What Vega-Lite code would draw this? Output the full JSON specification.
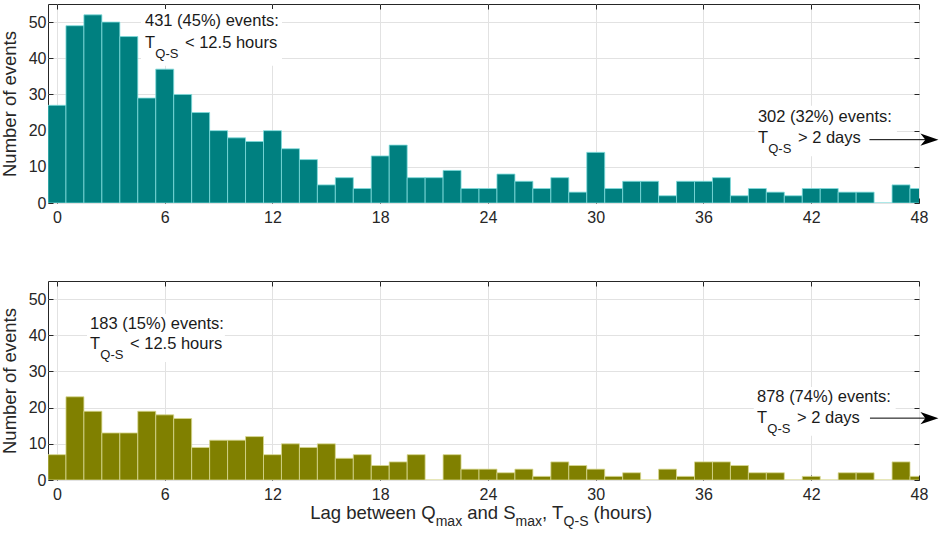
{
  "$schema": "https://vega.github.io/schema/vega-lite/v6.json",
  "padding": {"left": 0, "top": 3, "right": 0, "bottom": 0},
  "config": {
    "font": "Liberation Sans",
    "view": {"stroke": "#262626", "strokeWidth": 1},
    "axis": {
      "labelFont": "Liberation Sans", "titleFont": "Liberation Sans",
      "labelFontSize": 16, "labelColor": "#262626", "labelFlush": false,
      "titleFontSize": 18.5, "titleFontWeight": "normal", "titleColor": "#262626",
      "gridColor": "#e2e2e2", "gridWidth": 1,
      "tickColor": "#262626", "tickSize": -5, "domain": false
    },
    "text": {"font": "Liberation Sans"}
  },
  "datasets": {
    "top": [
      {"hour": 0, "events": 27}, {"hour": 1, "events": 49}, {"hour": 2, "events": 52}, {"hour": 3, "events": 50},
      {"hour": 4, "events": 46}, {"hour": 5, "events": 29}, {"hour": 6, "events": 37}, {"hour": 7, "events": 30},
      {"hour": 8, "events": 25}, {"hour": 9, "events": 20}, {"hour": 10, "events": 18}, {"hour": 11, "events": 17},
      {"hour": 12, "events": 20}, {"hour": 13, "events": 15}, {"hour": 14, "events": 12}, {"hour": 15, "events": 5},
      {"hour": 16, "events": 7}, {"hour": 17, "events": 4}, {"hour": 18, "events": 13}, {"hour": 19, "events": 16},
      {"hour": 20, "events": 7}, {"hour": 21, "events": 7}, {"hour": 22, "events": 9}, {"hour": 23, "events": 4},
      {"hour": 24, "events": 4}, {"hour": 25, "events": 8}, {"hour": 26, "events": 6}, {"hour": 27, "events": 4},
      {"hour": 28, "events": 7}, {"hour": 29, "events": 3}, {"hour": 30, "events": 14}, {"hour": 31, "events": 4},
      {"hour": 32, "events": 6}, {"hour": 33, "events": 6}, {"hour": 34, "events": 2}, {"hour": 35, "events": 6},
      {"hour": 36, "events": 6}, {"hour": 37, "events": 7}, {"hour": 38, "events": 2}, {"hour": 39, "events": 4},
      {"hour": 40, "events": 3}, {"hour": 41, "events": 2}, {"hour": 42, "events": 4}, {"hour": 43, "events": 4},
      {"hour": 44, "events": 3}, {"hour": 45, "events": 3}, {"hour": 46, "events": 0}, {"hour": 47, "events": 5},
      {"hour": 48, "events": 4}
    ],
    "bottom": [
      {"hour": 0, "events": 7}, {"hour": 1, "events": 23}, {"hour": 2, "events": 19}, {"hour": 3, "events": 13},
      {"hour": 4, "events": 13}, {"hour": 5, "events": 19}, {"hour": 6, "events": 18}, {"hour": 7, "events": 17},
      {"hour": 8, "events": 9}, {"hour": 9, "events": 11}, {"hour": 10, "events": 11}, {"hour": 11, "events": 12},
      {"hour": 12, "events": 7}, {"hour": 13, "events": 10}, {"hour": 14, "events": 9}, {"hour": 15, "events": 10},
      {"hour": 16, "events": 6}, {"hour": 17, "events": 7}, {"hour": 18, "events": 4}, {"hour": 19, "events": 5},
      {"hour": 20, "events": 7}, {"hour": 21, "events": 0}, {"hour": 22, "events": 7}, {"hour": 23, "events": 3},
      {"hour": 24, "events": 3}, {"hour": 25, "events": 2}, {"hour": 26, "events": 3}, {"hour": 27, "events": 1},
      {"hour": 28, "events": 5}, {"hour": 29, "events": 4}, {"hour": 30, "events": 3}, {"hour": 31, "events": 1},
      {"hour": 32, "events": 2}, {"hour": 33, "events": 0}, {"hour": 34, "events": 3}, {"hour": 35, "events": 1},
      {"hour": 36, "events": 5}, {"hour": 37, "events": 5}, {"hour": 38, "events": 4}, {"hour": 39, "events": 2},
      {"hour": 40, "events": 2}, {"hour": 41, "events": 0}, {"hour": 42, "events": 1}, {"hour": 43, "events": 0},
      {"hour": 44, "events": 2}, {"hour": 45, "events": 2}, {"hour": 46, "events": 0}, {"hour": 47, "events": 5},
      {"hour": 48, "events": 1}
    ]
  },
  "bounds": "flush",
  "spacing": 78,
  "vconcat": [
    {
      "width": 871, "height": 199,
      "resolve": {"axis": {"x": "independent", "y": "independent"}},
      "layer": [
        {
          "data": {"name": "top"},
          "mark": {"type": "bar", "orient": "vertical", "size": 17.96, "clip": true, "fill": "#008080", "stroke": "#7fdcdc", "strokeWidth": 0.8},
          "encoding": {
            "x": {"field": "hour", "type": "quantitative", "scale": {"domain": [-0.5, 48], "nice": false, "zero": false, "padding": 0},
                  "axis": {"values": [0, 6, 12, 18, 24, 30, 36, 42, 48], "title": null, "labelPadding": 11, "grid": true}},
            "y": {"field": "events", "type": "quantitative", "scale": {"domain": [0, 55], "nice": false},
                  "axis": {"values": [0, 10, 20, 30, 40, 50], "title": "Number of events", "labelPadding": 7, "titlePadding": 8.5, "grid": true}}
          }
        },
        {
          "data": {"name": "top"},
          "mark": {"type": "point", "opacity": 0},
          "encoding": {
            "x": {"field": "hour", "type": "quantitative", "scale": {"domain": [-0.5, 48], "nice": false, "zero": false, "padding": 0},
                  "axis": {"orient": "top", "values": [0, 6, 12, 18, 24, 30, 36, 42, 48], "labels": false, "grid": false, "title": null}},
            "y": {"field": "events", "type": "quantitative", "scale": {"domain": [0, 55], "nice": false},
                  "axis": {"orient": "right", "values": [0, 10, 20, 30, 40, 50], "labels": false, "grid": false, "title": null}}
          }
        },
        {
          "data": {"values": [{}]},
          "mark": {"type": "rect", "fill": "white"},
          "encoding": {
            "x": {"datum": 4.68, "type": "quantitative", "axis": null}, "x2": {"datum": 12.53},
            "y": {"datum": 37.9, "type": "quantitative", "axis": null}, "y2": {"datum": 53.6}
          }
        },
        {
          "data": {"values": [{}]},
          "mark": {"type": "rect", "fill": "white"},
          "encoding": {
            "x": {"datum": 38.86, "type": "quantitative", "axis": null}, "x2": {"datum": 46.77},
            "y": {"datum": 12.9, "type": "quantitative", "axis": null}, "y2": {"datum": 26.9}
          }
        },
        {
          "data": {"values": [{}]},
          "mark": {"type": "text", "align": "left", "baseline": "alphabetic", "fontSize": 16.5, "fill": "#1a1a1a", "text": "431 (45%) events:"},
          "encoding": {"x": {"datum": 4.9, "type": "quantitative", "axis": null}, "y": {"datum": 48.8, "type": "quantitative", "axis": null}}
        },
        {
          "data": {"values": [{}]},
          "mark": {"type": "text", "align": "left", "baseline": "alphabetic", "fontSize": 16.5, "fill": "#1a1a1a", "text": "T"},
          "encoding": {"x": {"datum": 4.9, "type": "quantitative", "axis": null}, "y": {"datum": 42.9, "type": "quantitative", "axis": null}}
        },
        {
          "data": {"values": [{}]},
          "mark": {"type": "text", "align": "left", "baseline": "alphabetic", "fontSize": 13, "fill": "#1a1a1a", "text": "Q-S", "dx": 10.3, "dy": 10},
          "encoding": {"x": {"datum": 4.9, "type": "quantitative", "axis": null}, "y": {"datum": 42.9, "type": "quantitative", "axis": null}}
        },
        {
          "data": {"values": [{}]},
          "mark": {"type": "text", "align": "left", "baseline": "alphabetic", "fontSize": 16.5, "fill": "#1a1a1a", "text": "< 12.5 hours", "dx": 40},
          "encoding": {"x": {"datum": 4.9, "type": "quantitative", "axis": null}, "y": {"datum": 42.9, "type": "quantitative", "axis": null}}
        },
        {
          "data": {"values": [{}]},
          "mark": {"type": "text", "align": "left", "baseline": "alphabetic", "fontSize": 16.5, "fill": "#1a1a1a", "text": "302 (32%) events:"},
          "encoding": {"x": {"datum": 39.03, "type": "quantitative", "axis": null}, "y": {"datum": 22.4, "type": "quantitative", "axis": null}}
        },
        {
          "data": {"values": [{}]},
          "mark": {"type": "text", "align": "left", "baseline": "alphabetic", "fontSize": 16.5, "fill": "#1a1a1a", "text": "T"},
          "encoding": {"x": {"datum": 39.03, "type": "quantitative", "axis": null}, "y": {"datum": 16.5, "type": "quantitative", "axis": null}}
        },
        {
          "data": {"values": [{}]},
          "mark": {"type": "text", "align": "left", "baseline": "alphabetic", "fontSize": 13, "fill": "#1a1a1a", "text": "Q-S", "dx": 10.3, "dy": 10},
          "encoding": {"x": {"datum": 39.03, "type": "quantitative", "axis": null}, "y": {"datum": 16.5, "type": "quantitative", "axis": null}}
        },
        {
          "data": {"values": [{}]},
          "mark": {"type": "text", "align": "left", "baseline": "alphabetic", "fontSize": 16.5, "fill": "#1a1a1a", "text": "> 2 days", "dx": 40},
          "encoding": {"x": {"datum": 39.03, "type": "quantitative", "axis": null}, "y": {"datum": 16.5, "type": "quantitative", "axis": null}}
        },
        {
          "data": {"values": [{}]},
          "mark": {"type": "rule", "stroke": "#000000", "strokeWidth": 1},
          "encoding": {"x": {"datum": 45.24, "type": "quantitative", "axis": null}, "x2": {"datum": 48.6}, "y": {"datum": 17.5, "type": "quantitative", "axis": null}}
        },
        {
          "data": {"values": [{}]},
          "mark": {"type": "point", "shape": "M1,0L-1,-0.68L-0.45,0L-1,0.68Z", "size": 324, "filled": true, "fill": "#000000", "opacity": 1, "strokeWidth": 0},
          "encoding": {"x": {"datum": 48.58, "type": "quantitative", "axis": null}, "y": {"datum": 17.5, "type": "quantitative", "axis": null}}
        }
      ]
    },
    {
      "width": 871, "height": 199,
      "resolve": {"axis": {"x": "independent", "y": "independent"}},
      "layer": [
        {
          "data": {"name": "bottom"},
          "mark": {"type": "bar", "orient": "vertical", "size": 17.96, "clip": true, "fill": "#808000", "stroke": "#d8d890", "strokeWidth": 0.8},
          "encoding": {
            "x": {"field": "hour", "type": "quantitative", "scale": {"domain": [-0.5, 48], "nice": false, "zero": false, "padding": 0},
                  "axis": {"values": [0, 6, 12, 18, 24, 30, 36, 42, 48], "title": null, "labelPadding": 11, "grid": true}},
            "y": {"field": "events", "type": "quantitative", "scale": {"domain": [0, 55], "nice": false},
                  "axis": {"values": [0, 10, 20, 30, 40, 50], "title": "Number of events", "labelPadding": 7, "titlePadding": 8.5, "grid": true}}
          }
        },
        {
          "data": {"name": "bottom"},
          "mark": {"type": "point", "opacity": 0},
          "encoding": {
            "x": {"field": "hour", "type": "quantitative", "scale": {"domain": [-0.5, 48], "nice": false, "zero": false, "padding": 0},
                  "axis": {"orient": "top", "values": [0, 6, 12, 18, 24, 30, 36, 42, 48], "labels": false, "grid": false, "title": null}},
            "y": {"field": "events", "type": "quantitative", "scale": {"domain": [0, 55], "nice": false},
                  "axis": {"orient": "right", "values": [0, 10, 20, 30, 40, 50], "labels": false, "grid": false, "title": null}}
          }
        },
        {
          "data": {"values": [{}]},
          "mark": {"type": "rect", "fill": "white"},
          "encoding": {
            "x": {"datum": 1.67, "type": "quantitative", "axis": null}, "x2": {"datum": 9.35},
            "y": {"datum": 32.6, "type": "quantitative", "axis": null}, "y2": {"datum": 45.9}
          }
        },
        {
          "data": {"values": [{}]},
          "mark": {"type": "rect", "fill": "white"},
          "encoding": {
            "x": {"datum": 38.8, "type": "quantitative", "axis": null}, "x2": {"datum": 46.7},
            "y": {"datum": 12.2, "type": "quantitative", "axis": null}, "y2": {"datum": 25.7}
          }
        },
        {
          "data": {"values": [{}]},
          "mark": {"type": "text", "align": "left", "baseline": "alphabetic", "fontSize": 16.5, "fill": "#1a1a1a", "text": "183 (15%) events:"},
          "encoding": {"x": {"datum": 1.84, "type": "quantitative", "axis": null}, "y": {"datum": 41.7, "type": "quantitative", "axis": null}}
        },
        {
          "data": {"values": [{}]},
          "mark": {"type": "text", "align": "left", "baseline": "alphabetic", "fontSize": 16.5, "fill": "#1a1a1a", "text": "T"},
          "encoding": {"x": {"datum": 1.84, "type": "quantitative", "axis": null}, "y": {"datum": 36.1, "type": "quantitative", "axis": null}}
        },
        {
          "data": {"values": [{}]},
          "mark": {"type": "text", "align": "left", "baseline": "alphabetic", "fontSize": 13, "fill": "#1a1a1a", "text": "Q-S", "dx": 10.3, "dy": 10},
          "encoding": {"x": {"datum": 1.84, "type": "quantitative", "axis": null}, "y": {"datum": 36.1, "type": "quantitative", "axis": null}}
        },
        {
          "data": {"values": [{}]},
          "mark": {"type": "text", "align": "left", "baseline": "alphabetic", "fontSize": 16.5, "fill": "#1a1a1a", "text": "< 12.5 hours", "dx": 40},
          "encoding": {"x": {"datum": 1.84, "type": "quantitative", "axis": null}, "y": {"datum": 36.1, "type": "quantitative", "axis": null}}
        },
        {
          "data": {"values": [{}]},
          "mark": {"type": "text", "align": "left", "baseline": "alphabetic", "fontSize": 16.5, "fill": "#1a1a1a", "text": "878 (74%) events:"},
          "encoding": {"x": {"datum": 38.98, "type": "quantitative", "axis": null}, "y": {"datum": 21.6, "type": "quantitative", "axis": null}}
        },
        {
          "data": {"values": [{}]},
          "mark": {"type": "text", "align": "left", "baseline": "alphabetic", "fontSize": 16.5, "fill": "#1a1a1a", "text": "T"},
          "encoding": {"x": {"datum": 38.98, "type": "quantitative", "axis": null}, "y": {"datum": 15.7, "type": "quantitative", "axis": null}}
        },
        {
          "data": {"values": [{}]},
          "mark": {"type": "text", "align": "left", "baseline": "alphabetic", "fontSize": 13, "fill": "#1a1a1a", "text": "Q-S", "dx": 10.3, "dy": 10},
          "encoding": {"x": {"datum": 38.98, "type": "quantitative", "axis": null}, "y": {"datum": 15.7, "type": "quantitative", "axis": null}}
        },
        {
          "data": {"values": [{}]},
          "mark": {"type": "text", "align": "left", "baseline": "alphabetic", "fontSize": 16.5, "fill": "#1a1a1a", "text": "> 2 days", "dx": 40},
          "encoding": {"x": {"datum": 38.98, "type": "quantitative", "axis": null}, "y": {"datum": 15.7, "type": "quantitative", "axis": null}}
        },
        {
          "data": {"values": [{}]},
          "mark": {"type": "rule", "stroke": "#000000", "strokeWidth": 1},
          "encoding": {"x": {"datum": 45.27, "type": "quantitative", "axis": null}, "x2": {"datum": 48.6}, "y": {"datum": 17.1, "type": "quantitative", "axis": null}}
        },
        {
          "data": {"values": [{}]},
          "mark": {"type": "point", "shape": "M1,0L-1,-0.68L-0.45,0L-1,0.68Z", "size": 324, "filled": true, "fill": "#000000", "opacity": 1, "strokeWidth": 0},
          "encoding": {"x": {"datum": 48.58, "type": "quantitative", "axis": null}, "y": {"datum": 17.1, "type": "quantitative", "axis": null}}
        },
        {
          "data": {"values": [{}]},
          "mark": {"type": "text", "align": "left", "baseline": "alphabetic", "fontSize": 18.5, "fill": "#262626", "text": "Lag between Q"},
          "encoding": {"x": {"datum": 14.1, "type": "quantitative", "axis": null}, "y": {"datum": -10.8, "type": "quantitative", "axis": null}}
        },
        {
          "data": {"values": [{}]},
          "mark": {"type": "text", "align": "left", "baseline": "alphabetic", "fontSize": 14, "fill": "#262626", "text": "max", "dx": 125.5, "dy": 7},
          "encoding": {"x": {"datum": 14.1, "type": "quantitative", "axis": null}, "y": {"datum": -10.8, "type": "quantitative", "axis": null}}
        },
        {
          "data": {"values": [{}]},
          "mark": {"type": "text", "align": "left", "baseline": "alphabetic", "fontSize": 18.5, "fill": "#262626", "text": "and S", "dx": 157.0},
          "encoding": {"x": {"datum": 14.1, "type": "quantitative", "axis": null}, "y": {"datum": -10.8, "type": "quantitative", "axis": null}}
        },
        {
          "data": {"values": [{}]},
          "mark": {"type": "text", "align": "left", "baseline": "alphabetic", "fontSize": 14, "fill": "#262626", "text": "max", "dx": 205.4, "dy": 7},
          "encoding": {"x": {"datum": 14.1, "type": "quantitative", "axis": null}, "y": {"datum": -10.8, "type": "quantitative", "axis": null}}
        },
        {
          "data": {"values": [{}]},
          "mark": {"type": "text", "align": "left", "baseline": "alphabetic", "fontSize": 18.5, "fill": "#262626", "text": ", T", "dx": 231.8},
          "encoding": {"x": {"datum": 14.1, "type": "quantitative", "axis": null}, "y": {"datum": -10.8, "type": "quantitative", "axis": null}}
        },
        {
          "data": {"values": [{}]},
          "mark": {"type": "text", "align": "left", "baseline": "alphabetic", "fontSize": 14, "fill": "#262626", "text": "Q-S", "dx": 253.4, "dy": 7},
          "encoding": {"x": {"datum": 14.1, "type": "quantitative", "axis": null}, "y": {"datum": -10.8, "type": "quantitative", "axis": null}}
        },
        {
          "data": {"values": [{}]},
          "mark": {"type": "text", "align": "left", "baseline": "alphabetic", "fontSize": 18.5, "fill": "#262626", "text": "(hours)", "dx": 283.4},
          "encoding": {"x": {"datum": 14.1, "type": "quantitative", "axis": null}, "y": {"datum": -10.8, "type": "quantitative", "axis": null}}
        }
      ]
    }
  ]
}
